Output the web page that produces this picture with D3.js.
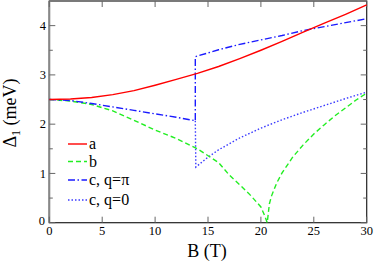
<!DOCTYPE html>
<html><head><meta charset="utf-8">
<script src="https://cdn.jsdelivr.net/npm/d3@7"></script>
<style>body{margin:0;background:#fff}svg{display:block}svg text{font-family:"Liberation Serif" !important}</style>
</head><body>
<svg id="c" width="374" height="263"></svg>
<script>
// Data
const bA = [0,2,4,6,8,10,12,14,16,18,20,22,24,26,28,30];
const vA = [2.50,2.51,2.54,2.60,2.68,2.79,2.91,3.03,3.17,3.33,3.50,3.68,3.87,4.05,4.23,4.42];

const bB = [0,2,4,6,8,10,12,14,16,17,18,19,20,20.3,20.6,20.8,21,21.5,22,23,24,25,26,27,28,29,30];
const vB = [2.50,2.47,2.40,2.27,2.08,1.88,1.71,1.50,1.22,0.97,0.77,0.56,0.32,0.17,0.0,0.38,0.54,0.81,1.01,1.33,1.58,1.80,1.99,2.17,2.33,2.49,2.63];

const bCpi = [0,2,4,6,8,10,12,13.8,13.8,16,18,20,22,24,26,28,30];
const vCpi = [2.50,2.48,2.42,2.35,2.28,2.21,2.14,2.07,3.37,3.51,3.62,3.71,3.80,3.90,3.98,4.06,4.14];

const bC0 = [13.8,13.85,15,16,18,20,22,24,26,28,30];
const vC0 = [2.07,1.13,1.33,1.48,1.72,1.92,2.09,2.24,2.38,2.52,2.65];

const seriesNames = ["a","b","c, q=\u03c0","c, q=0"];
const xTicks = [0,5,10,15,20,25,30];
const yTicks = [0,1,2,3,4];
const yMinor = [0.5,1.5,2.5,3.5];

const FONT = "Liberation Serif";
const svg = d3.select("#c");
const L=49.3, R=366.7, T=1, Bt=222.7;
const x = d3.scaleLinear().domain([0,30]).range([L,R]);
const y = d3.scaleLinear().domain([0,4.5]).range([Bt,T]);

const g = svg.append("g");
g.append("rect").attr("x",L).attr("y",T).attr("width",R-L).attr("height",Bt-T)
 .attr("fill","none").attr("stroke","#222").attr("stroke-width",1.2);
g.append("line").attr("x1",L).attr("x2",L).attr("y1",T).attr("y2",Bt)
 .attr("stroke","#888").attr("stroke-width",2);

const tickCol="#666";
function txt(xp,yp,s,size,anchor){
  return svg.append("text").attr("x",xp).attr("y",yp).attr("text-anchor",anchor||"start")
   .attr("font-family",FONT).style("font-size",size+"px").text(s);
}
xTicks.forEach(t=>{
  g.append("line").attr("x1",x(t)).attr("x2",x(t)).attr("y1",Bt).attr("y2",Bt-6).attr("stroke",tickCol).attr("stroke-width",1);
  g.append("line").attr("x1",x(t)).attr("x2",x(t)).attr("y1",T).attr("y2",T+6).attr("stroke",tickCol).attr("stroke-width",1);
  txt(x(t),234.5,String(t),12.5,"middle");
});
yTicks.forEach(t=>{
  g.append("line").attr("x1",L).attr("x2",L+6).attr("y1",y(t)).attr("y2",y(t)).attr("stroke",tickCol).attr("stroke-width",1);
  g.append("line").attr("x1",R).attr("x2",R-6).attr("y1",y(t)).attr("y2",y(t)).attr("stroke",tickCol).attr("stroke-width",1);
  txt(t===0?45:46, y(t)+(t===0?2:4.3), String(t), 12.5, "end");
});
yMinor.forEach(t=>{
  g.append("line").attr("x1",L).attr("x2",L+3.5).attr("y1",y(t)).attr("y2",y(t)).attr("stroke",tickCol).attr("stroke-width",1);
  g.append("line").attr("x1",R).attr("x2",R-3.5).attr("y1",y(t)).attr("y2",y(t)).attr("stroke",tickCol).attr("stroke-width",1);
});

txt(207,257,"B (T)",18,"middle");
const yl = svg.append("text").attr("transform","translate(15.5,113) rotate(-90)").attr("text-anchor","middle")
 .attr("font-family",FONT).style("font-size","18px");
yl.append("tspan").text("\u0394");
yl.append("tspan").style("font-size","12px").attr("dy",4).text("1");
yl.append("tspan").attr("dy",-4).text(" (meV)");

const line = d3.line().x(d=>x(d[0])).y(d=>y(d[1]));
const styles = [
  {c:"#ff0000", dash:null},
  {c:"#22ee22", dash:"5,3"},
  {c:"#1a1aff", dash:"7,2.5,1.5,2.5"},
  {c:"#3a3aff", dash:"1.5,2"}
];
const data = [d3.zip(bA,vA), d3.zip(bB,vB), d3.zip(bCpi,vCpi), d3.zip(bC0,vC0)];
[3,1,2,0].forEach(i=>{
  g.append("path").attr("d",line(data[i])).attr("fill","none")
   .attr("stroke",styles[i].c).attr("stroke-width",1.4)
   .attr("stroke-dasharray",styles[i].dash);
});

const ly=[144,161.5,180,200];
seriesNames.forEach((n,i)=>{
  g.append("line").attr("x1",68).attr("x2",87).attr("y1",ly[i]).attr("y2",ly[i])
   .attr("stroke",styles[i].c).attr("stroke-width",1.4).attr("stroke-dasharray",styles[i].dash);
  txt(89, ly[i]+5, n, 16);
});
</script>
</body></html>
